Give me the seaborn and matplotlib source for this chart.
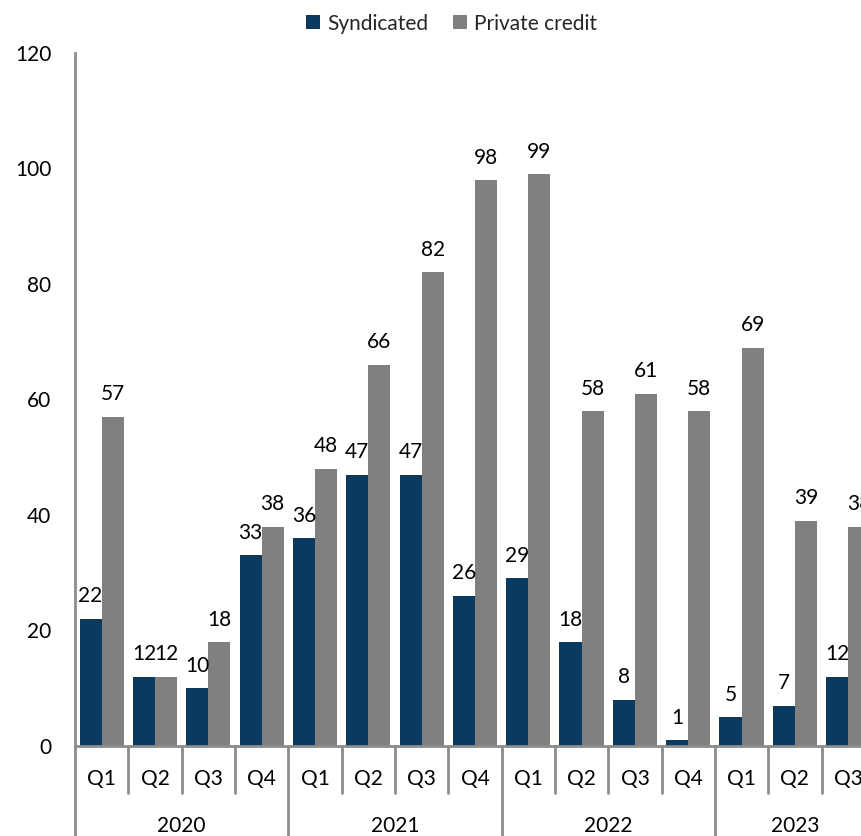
import matplotlib
matplotlib.use("Agg")
import matplotlib.pyplot as plt
import matplotlib.transforms as mtransforms
import seaborn as sns
import pandas as pd

quarters = ["Q1", "Q2", "Q3", "Q4", "Q1", "Q2", "Q3", "Q4",
            "Q1", "Q2", "Q3", "Q4", "Q1", "Q2", "Q3"]
years = ["2020", "2021", "2022", "2023"]
quarters_per_year = [4, 4, 4, 3]
syndicated = [22, 12, 10, 33, 36, 47, 47, 26, 29, 18, 8, 1, 5, 7, 12]
private_credit = [57, 12, 18, 38, 48, 66, 82, 98, 99, 58, 61, 58, 69, 39, 38]
series = ["Syndicated", "Private credit"]
colors = ["#0B3A5E", "#808080"]

periods = [f"{i:02d}" for i in range(len(quarters))]
df = pd.DataFrame({
    "period": periods * 2,
    "value": syndicated + private_credit,
    "series": [series[0]] * len(periods) + [series[1]] * len(periods),
})

sns.set_theme(style="white")
plt.rcParams["font.family"] = ["Lato", "DejaVu Sans"]
FS = 15

fig = plt.figure(figsize=(8.62, 8.36), dpi=100)
ax = fig.add_axes([0.087, 0.1077, 0.928, 0.8289])

sns.barplot(data=df, x="period", y="value", hue="series", order=periods,
            hue_order=series, palette=colors, width=0.83, saturation=1,
            linewidth=0, ax=ax, legend=True)

for cont in ax.containers:
    ax.bar_label(cont, padding=9, fontsize=FS, color="black")

ax.set_xlim(-0.5, len(periods) - 0.5)
ax.set_ylim(0, 120)
ax.set_yticks(range(0, 121, 20))
ax.tick_params(axis="y", length=0, pad=17, labelsize=FS, labelcolor="black")
ax.set_xticks([])
ax.set_xlabel("")
ax.set_ylabel("")

for s in ["top", "right"]:
    ax.spines[s].set_visible(False)
for s in ["left", "bottom"]:
    ax.spines[s].set_color("#8C8C8C")
    ax.spines[s].set_linewidth(2)

# two-level category axis below the plot
trans = mtransforms.blended_transform_factory(ax.transData, ax.transAxes)
px = 1.0 / 693.0
line_kw = dict(color="#8C8C8C", lw=2, transform=trans, clip_on=False)
year_edges = []
pos = -0.5
for n in quarters_per_year:
    year_edges.append(pos)
    pos += n
year_edges.append(pos)

for k in range(len(periods) + 1):
    x = k - 0.5
    if x in year_edges:
        ax.plot([x, x], [0, -120 * px], **line_kw)
    else:
        ax.plot([x, x], [0, -47 * px], **line_kw)

for i, q in enumerate(quarters):
    ax.text(i, -33 * px, q, transform=trans, ha="center", va="center",
            fontsize=FS, color="black", clip_on=False)

for y, a, b in zip(years, year_edges[:-1], year_edges[1:]):
    ax.text((a + b) / 2, -80 * px, y, transform=trans, ha="center",
            va="center", fontsize=FS, color="black", clip_on=False)

leg = ax.legend(loc="upper center", bbox_to_anchor=(0.471, 1.084), ncol=2,
                frameon=False, fontsize=FS, handlelength=0.65,
                handleheight=0.65, handletextpad=0.35, columnspacing=1.2)

fig.savefig("out.png", dpi=100)
